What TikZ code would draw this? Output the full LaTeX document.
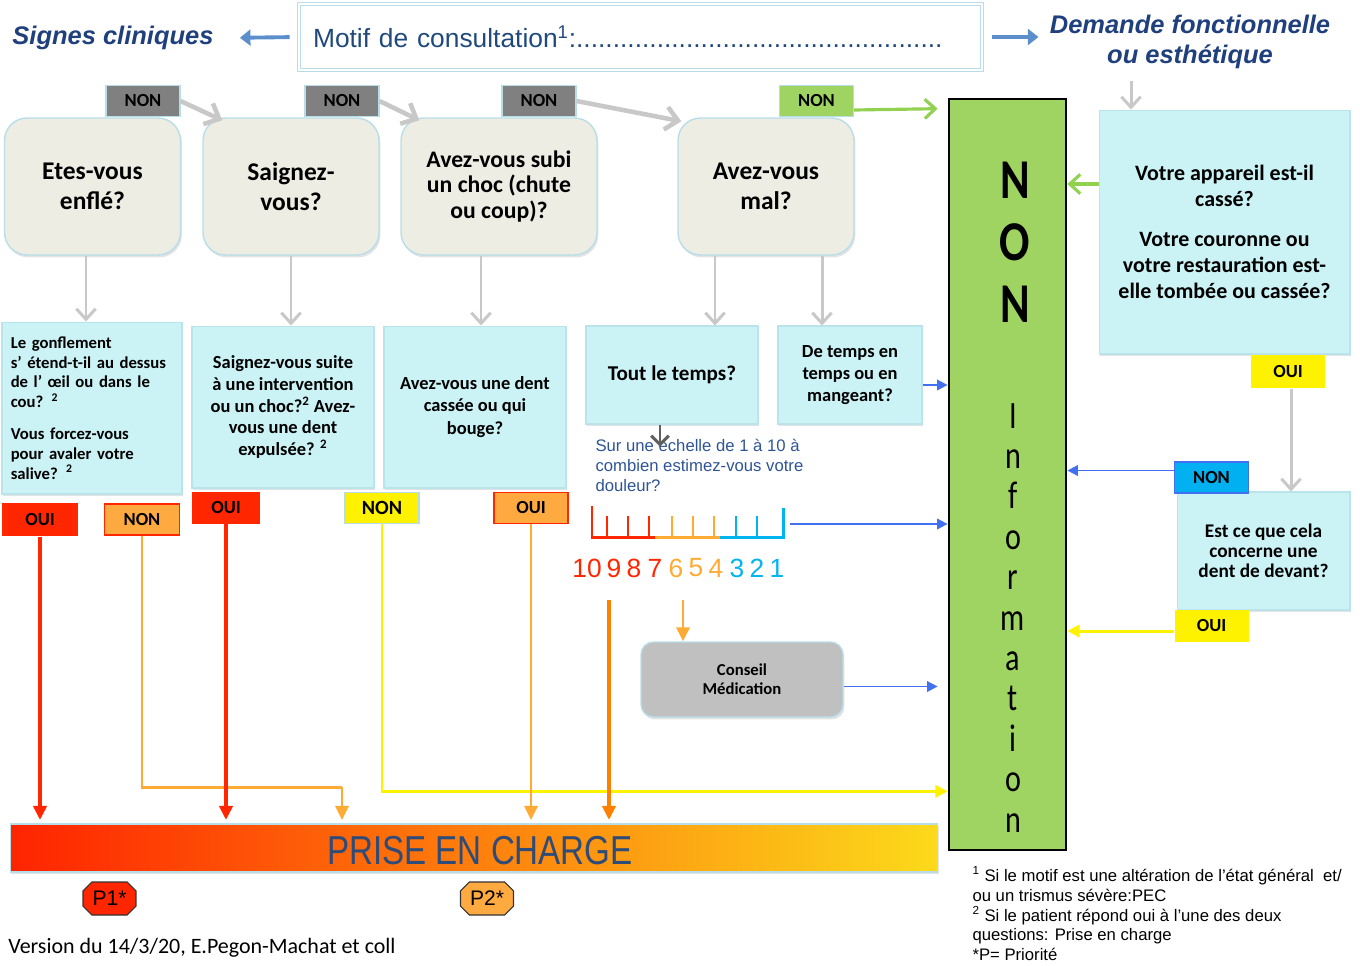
\documentclass[tikz,border=0pt]{standalone}
\usepackage{fontspec}
\setmainfont{Carlito}
\newfontfamily\arialfont{Liberation Sans}
\usetikzlibrary{arrows.meta,calc,shapes.misc,shadows}

\definecolor{titleblue}{RGB}{31,63,125}
\definecolor{motifblue}{RGB}{31,73,125}
\definecolor{textblue}{RGB}{46,84,150}
\definecolor{chargeblue}{RGB}{47,75,120}
\definecolor{headarrow}{RGB}{91,143,204}
\definecolor{linkblue}{RGB}{66,112,240}
\definecolor{qfill}{RGB}{238,237,228}
\definecolor{qline}{RGB}{183,222,232}
\definecolor{cfill}{RGB}{203,242,245}
\definecolor{cline}{RGB}{185,228,235}
\definecolor{nongrey}{RGB}{128,128,128}
\definecolor{lightgrey}{RGB}{200,200,200}
\definecolor{darkgrey}{RGB}{95,95,95}
\definecolor{nongreen}{RGB}{160,212,98}
\definecolor{arrowgreen}{RGB}{146,208,80}
\definecolor{ouired}{RGB}{255,38,0}
\definecolor{nonorange}{RGB}{255,170,64}
\definecolor{ouiyellow}{RGB}{255,242,0}
\definecolor{noncyan}{RGB}{0,176,240}
\definecolor{darkorange}{RGB}{255,128,0}
\definecolor{scaleorange}{RGB}{255,170,51}
\definecolor{scalecyan}{RGB}{0,180,240}
\definecolor{conseilgrey}{RGB}{192,192,192}
\definecolor{barred}{RGB}{255,35,0}
\definecolor{barorange}{RGB}{255,125,0}
\definecolor{baryellow}{RGB}{252,218,26}

\tikzstyle{shd}=[drop shadow={shadow xshift=0.8pt,shadow yshift=-1.4pt,opacity=0.22}]
\tikzstyle{qv}=[shape=rectangle,
                rounded corners=0.45cm,
                draw=qline,
                fill=qfill,
                thick,
                align=center,
                minimum width=3.52cm,
                minimum height=2.74cm,
                font=\bfseries\fontsize{14.5}{17}\selectfont,
                shd]
\tikzstyle{cv}=[shape=rectangle,
                draw=cline,
                fill=cfill,
                align=center,
                shd]
\tikzstyle{lab}=[shape=rectangle,
                minimum width=1.48cm,
                minimum height=0.63cm,
                inner sep=0pt,
                font=\bfseries\fontsize{10.5}{12}\selectfont]
\tikzstyle{head}=[font=\arialfont\bfseries\itshape\fontsize{14.5}{17}\selectfont,
                text=titleblue]
\tikzstyle{greyarrow}=[draw=lightgrey, line width=2.6pt, -{Straight Barb[length=7pt,width=13pt]}]
\tikzstyle{greyline}=[draw=lightgrey, line width=1.7pt, -{Straight Barb[length=6pt,width=11pt]}]
\tikzstyle{greenarrow}=[draw=arrowgreen, line width=1.8pt, -{Straight Barb[length=6pt,width=11pt]}]
\tikzstyle{bluearrow}=[draw=linkblue, line width=1.1pt, -{Triangle[length=6pt,width=6pt]}]
\tikzstyle{hdarrow}=[draw=headarrow, line width=2.2pt, -{Triangle[length=6pt,width=9pt]}]
\tikzstyle{redarrow}=[draw=ouired, line width=2.2pt, -{Triangle[length=8pt,width=7.5pt]}]
\tikzstyle{orangearrow}=[draw=scaleorange, line width=1.7pt, -{Triangle[length=8pt,width=7.5pt]}]
\tikzstyle{yellowarrow}=[draw=ouiyellow, line width=1.7pt, -{Triangle[length=7pt,width=7pt]}]

\begin{document}
\begin{tikzpicture}[>=stealth,semithick,x=0.02cm,y=-0.02cm]
\useasboundingbox (0,0) rectangle (1360,965);

% header
\node[head] (signes) at (113,38) {Signes cliniques};
\node[shape=rectangle, draw=qline, double=white, double distance=1.5pt,
      minimum width=13.66cm, minimum height=1.32cm, inner sep=0.28cm,
      text width=13.1cm, align=left, text=motifblue,
      font=\arialfont\fontsize{15}{17}\selectfont] (motif) at (640.5,37)
      {Motif de consultation\textsuperscript{1}:..................................................};
\node[head, align=center] (dem) at (1190,42) {Demande fonctionnelle\\ou esthétique};
\draw[hdarrow, shorten <=0.18cm, shorten >=0.4cm] (motif.west) -- (signes.east);
\draw[hdarrow, shorten <=0.2cm, shorten >=0.1cm] (motif.east) -- (motif.east -| dem.west);

% question nodes (q)
\node[qv] (q1) at (92.5,186.5) {Etes-vous\\enflé?};
\node[qv] (q2) at (291,186.5)  {Saignez-\\vous?};
\node[qv, minimum width=3.92cm, font=\bfseries\fontsize{13.5}{14.5}\selectfont] (q3) at (499,186.5) {Avez-vous subi\\un choc (chute\\ou coup)?};
\node[qv] (q4) at (766,186.5)  {Avez-vous\\mal?};

% NON labels on top
\node[lab, fill=nongrey, draw=qline]  (non1) at (143,101)   {NON};
\node[lab, fill=nongrey, draw=qline]  (non2) at (342,101)   {NON};
\node[lab, fill=nongrey, draw=qline]  (non3) at (539,101)   {NON};
\node[lab, fill=nongreen, draw=qline] (nong) at (816.5,101) {NON};

% detail nodes (b)
\node[cv, minimum width=3.6cm, minimum height=3.44cm, text width=3.25cm, align=left,
      font=\bfseries\fontsize{9.5}{11.3}\selectfont] (b1) at (92,408)
      {Le gonflement\\s’ étend-t-il au dessus\\de  l’ œil ou dans le\\cou? \textsuperscript{2}\\[6.8pt]Vous forcez-vous\\pour avaler votre\\salive? \textsuperscript{2}};
\node[cv, minimum width=3.64cm, minimum height=3.24cm,
      font=\bfseries\fontsize{10.5}{12.5}\selectfont] (b2) at (283,407)
      {Saignez-vous suite\\à une intervention\\ou un choc?\textsuperscript{2} Avez-\\vous une dent\\expulsée? \textsuperscript{2}};
\node[cv, minimum width=3.64cm, minimum height=3.24cm,
      font=\bfseries\fontsize{10.5}{13}\selectfont] (b3) at (475,407)
      {Avez-vous une dent\\cassée ou qui\\bouge?};
\node[cv, minimum width=3.44cm, minimum height=1.96cm,
      font=\bfseries\fontsize{12}{14}\selectfont] (b4) at (672,375) {Tout le temps?};
\node[cv, minimum width=2.88cm, minimum height=1.96cm,
      font=\bfseries\fontsize{10.5}{12.7}\selectfont] (b5) at (850,375)
      {De temps en\\temps ou en\\mangeant?};
\node[cv, minimum width=5.02cm, minimum height=4.88cm,
      font=\bfseries\fontsize{12.5}{15}\selectfont] (b6) at (1224.5,232)
      {Votre appareil est-il\\cassé?\\[7.5pt]Votre couronne ou\\votre restauration est-\\elle tombée ou cassée?};
\node[cv, minimum width=3.46cm, minimum height=2.36cm,
      font=\bfseries\fontsize{11}{11.5}\selectfont] (b7) at (1263.5,551)
      {Est ce que cela\\concerne une\\dent de devant?};

% answer labels
\node[lab, fill=ouired, minimum width=1.52cm, minimum height=0.66cm] (l1) at (40,519.5) {OUI};
\node[lab, fill=nonorange, draw=ouired, minimum width=1.5cm, minimum height=0.62cm] (l2) at (142,519.5) {NON};
\node[lab, fill=ouired, minimum width=1.36cm] (l3) at (226,508) {OUI};
\node[lab, fill=ouiyellow, draw=qline, font=\bfseries\fontsize{11.5}{13}\selectfont] (l4) at (382,508) {NON};
\node[lab, fill=nonorange, draw=ouired] (l5) at (531,508) {OUI};
\node[lab, fill=ouiyellow, minimum height=0.66cm] (r1) at (1288,371.5) {OUI};
\node[lab, fill=noncyan, draw=linkblue, minimum height=0.62cm] (r2) at (1211.5,477.5) {NON};
\node[lab, fill=ouiyellow] (r3) at (1211.5,626) {OUI};

% NON / Information column
\node[shape=rectangle, draw=black, line width=1.6pt, fill=nongreen,
      minimum width=2.34cm, minimum height=15.02cm] (ncol) at (1007.5,474.5) {};
\foreach \ch [count=\i] in {N,O,N}
  \node[anchor=base, xscale=0.8, font=\bfseries\fontsize{32}{34}\selectfont] (big\i) at (1015,{198+62*(\i-1)}) {\ch};
\foreach \ch [count=\i] in {I,n,f,o,r,m,a,t,i,o,n}
  \node[anchor=base, xscale=0.78, font=\fontsize{22}{24}\selectfont] (info\i) at (1013,{428+40.4*(\i-1)}) {\ch};

% pain scale
\node[anchor=north west, inner sep=0pt, align=left, text=textblue,
      font=\arialfont\fontsize{9.5}{11.3}\selectfont] (echelle) at (595,439)
      {Sur une échelle de 1 à 10 à\\combien estimez-vous votre\\douleur?};
\draw[ouired, line width=1.7pt] (592,506) -- (592,537) -- (655,537);
\draw[scaleorange, line width=1.7pt] (655,537) -- (720,537);
\draw[scalecyan, line width=1.7pt] (720,537) -- (783,537) -- (783,508);
\foreach \xx in {607,628,649} \draw[ouired, line width=1.7pt] (\xx,516) -- (\xx,537);
\foreach \xx in {672,693,714} \draw[scaleorange, line width=1.7pt] (\xx,516) -- (\xx,537);
\foreach \xx in {736,757} \draw[scalecyan, line width=1.7pt] (\xx,516) -- (\xx,537);
\foreach \n/\xx/\cc in {10/587/ouired,9/614/ouired,8/634/ouired,7/655/ouired,6/676/scaleorange,5/696/scaleorange,4/716/scaleorange,3/737/scalecyan,2/757/scalecyan,1/777/scalecyan}
  \node[text=\cc, font=\arialfont\fontsize{15}{17}\selectfont] (num\n) at (\xx,568) {\n};

% advice node
\node[shape=rectangle, rounded corners=0.25cm, draw=qline, fill=conseilgrey, thick, shd,
      align=center, minimum width=4.04cm, minimum height=1.5cm,
      font=\bfseries\fontsize{9.5}{11}\selectfont] (conseil) at (742,679.5) {Conseil\\Médication};

% care bar and priorities
\node[shape=rectangle, draw=qline, left color=barred, middle color=barorange, right color=baryellow,
      minimum width=18.56cm, minimum height=0.96cm, shd] (bar) at (474,848) {};
\node[xscale=0.82, text=chargeblue, font=\arialfont\fontsize{23}{25}\selectfont] (bartext) at (480,851) {PRISE EN CHARGE};
\node[chamfered rectangle, chamfered rectangle xsep=2.5pt, chamfered rectangle ysep=2.5pt,
      draw=black!80, fill=ouired, minimum width=1.06cm, minimum height=0.66cm, inner sep=1pt,
      font=\arialfont\fontsize{12}{14}\selectfont] (p1) at (109.5,898.5) {P1*};
\node[chamfered rectangle, chamfered rectangle xsep=2.5pt, chamfered rectangle ysep=2.5pt,
      draw=black!80, fill=nonorange, minimum width=1.06cm, minimum height=0.66cm, inner sep=1pt,
      font=\arialfont\fontsize{12}{14}\selectfont] (p2) at (487,898.5) {P2*};

% footer texts
\node[anchor=west, font=\fontsize{12.5}{14}\selectfont] (version) at (2,948) {Version du 14/3/20, E.Pegon-Machat et coll};
\node[anchor=north west, inner sep=0pt, align=left, font=\arialfont\fontsize{9.5}{11.3}\selectfont] (notes) at (972,866)
  {\textsuperscript{1} Si le motif est une altération de l’état général \ et/\\ou un trismus sévère:PEC\\\textsuperscript{2} Si le patient répond oui à l’une des deux\\questions: Prise en charge\\*P= Priorité};

% paths (arrows) along the top row
\draw[greyarrow] (non1.east) -- ($(q2.north west)+(20,3)$);
\draw[greyarrow] (non2.east) -- ($(q3.north west)+(19,3)$);
\draw[greyarrow] (non3.east) -- ($(q4.north west)+(4,4)$);
\draw[greenarrow] ($(nong.east)+(0,9)$) -- ($(ncol.north west)+(-10,11)$);

% paths (arrows) from questions to details
\coordinate (d1) at ($(b1.north)+(-6,0)$);
\coordinate (d3) at ($(b3.north)+(6,0)$);
\coordinate (d4a) at ($(q4.south)+(-51,0)$);
\coordinate (d4b) at ($(q4.south)+(56,0)$);
\draw[greyline] (d1 |- q1.south) -- (d1);
\draw[greyline] (q2.south) -- (q2.south |- b2.north);
\draw[greyline] (d3 |- q3.south) -- (d3);
\draw[greyline] (d4a) -- (d4a |- b4.north);
\draw[greyline] (d4b) -- (d4b |- b5.north);
\coordinate (d6) at ($(dem.south)+(-59,6)$);
\draw[greyline] (d6) -- (d6 |- b6.north);
\coordinate (d7) at ($(r1.south)+(3,0)$);
\draw[greyline] (d7) -- (d7 |- b7.north);
\coordinate (t4) at ($(b4.south)+(-12,0)$);
\coordinate (t4e) at ($(t4)+(0,22)$);
\draw[draw=darkgrey, line width=1.7pt, -{Straight Barb[length=5pt,width=10pt]}] (t4) -- (t4e);

% paths (arrows) into the information column
\coordinate (e5) at ($(b5.east)+(0,10)$);
\draw[bluearrow] (e5) -- (e5 -| ncol.west);
\coordinate (sc) at (790,524);
\draw[bluearrow] (sc) -- (sc -| ncol.west);
\coordinate (ec) at ($(conseil.east)+(0,7)$);
\draw[bluearrow, shorten >=0.2cm] (ec) -- (ec -| ncol.west);
\coordinate (e6) at ($(b6.west)+(0,-48)$);
\draw[greenarrow] (e6) -- (e6 -| ncol.east);
\coordinate (e2) at ($(r2.west)+(0,-7)$);
\draw[bluearrow] (e2) -- (e2 -| ncol.east);
\coordinate (e3) at ($(r3.west)+(0,5)$);
\draw[yellowarrow] (e3) -- (e3 -| ncol.east);

% paths (arrows) down to the care bar
\coordinate (k2) at (342,787);
\coordinate (k4) at ($(ncol.south west)+(0,-60)$);
\draw[redarrow, shorten >=2pt] (l1.south) -- (l1.south |- bar.north);
\draw[orangearrow, -] (l2.south) |- (k2);
\draw[orangearrow, shorten >=2pt] (k2) -- (k2 |- bar.north);
\draw[redarrow, shorten >=2pt] (l3.south) -- (l3.south |- bar.north);
\draw[yellowarrow] (l4.south) |- (k4);
\draw[orangearrow, shorten >=2pt] (l5.south) -- (l5.south |- bar.north);
\coordinate (o6) at (683,600);
\draw[orangearrow] (o6) -- (o6 |- conseil.north);
\coordinate (o9) at (609,600);
\draw[draw=darkorange, line width=2.2pt, -{Triangle[length=8pt,width=7.5pt]}, shorten >=2pt] (o9) -- (o9 |- bar.north);
\end{tikzpicture}
\end{document}
